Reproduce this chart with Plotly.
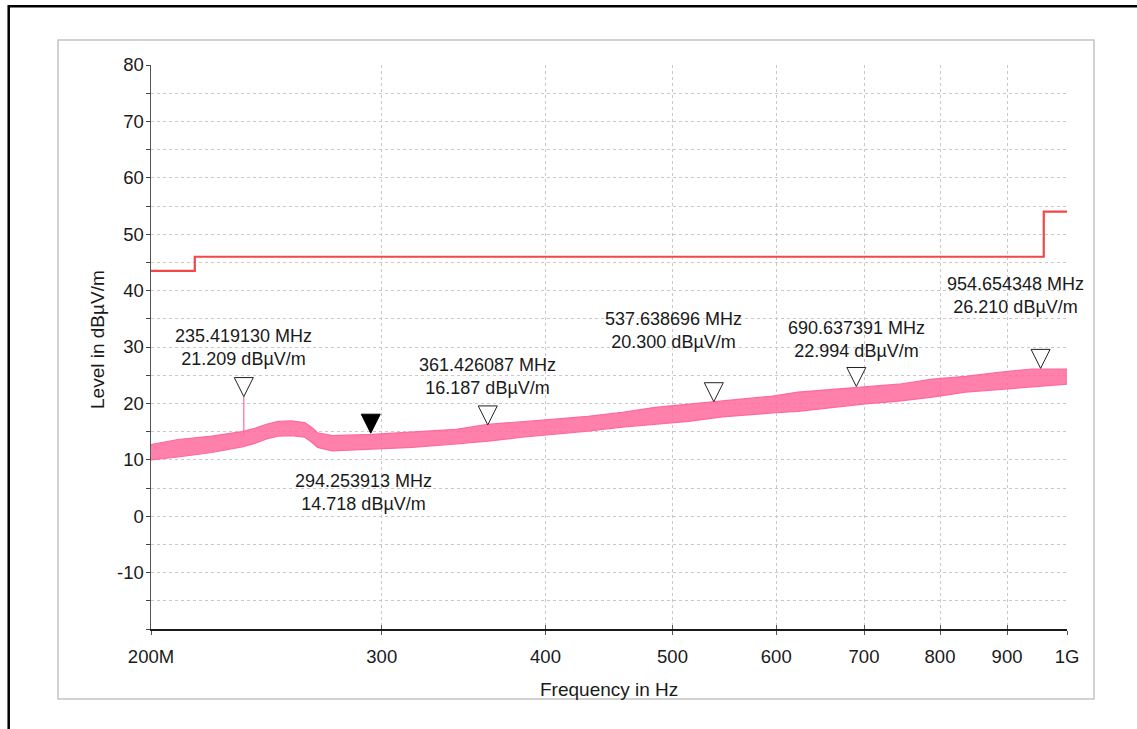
import math
import plotly.graph_objects as go

# ---------------- data ----------------
trace_freq_mhz = [200.0, 209.7, 222.6, 234.7, 240.0, 245.0, 250.0, 256.0, 262.0, 265.0,
                  268.0, 275.0, 295.0, 316.3, 342.0, 361.5, 383.8, 406.7, 431.0, 457.7,
                  485.1, 514.2, 545.7, 578.5, 596.0, 623.5, 662.1, 701.7, 743.8, 789.3,
                  836.6, 886.7, 939.8, 1000.0]
trace_low = [10.0, 10.5, 11.3, 12.3, 12.9, 13.7, 14.2, 14.3, 14.0, 13.2,
             12.2, 11.6, 11.9, 12.2, 12.8, 13.3, 14.0, 14.5, 15.1, 15.8,
             16.3, 16.8, 17.6, 18.1, 18.3, 18.6, 19.3, 19.9, 20.4, 21.1,
             22.0, 22.5, 23.0, 23.4]
trace_high = [12.7, 13.6, 14.2, 15.0, 15.6, 16.3, 16.8, 16.9, 16.6, 15.8,
              14.8, 14.3, 14.5, 14.9, 15.4, 16.3, 16.7, 17.2, 17.7, 18.4,
              19.3, 19.9, 20.4, 21.1, 21.3, 22.0, 22.5, 23.0, 23.4, 24.3,
              24.8, 25.5, 26.1, 26.1]

spike_freq_mhz = [235.419130, 235.419130]
spike_level = [14.5, 21.209]

limit_freq_mhz = [200.0, 216.0, 216.0, 960.0, 960.0, 1000.0]
limit_level = [43.5, 43.5, 46.0, 46.0, 54.0, 54.0]

marker_freq_mhz = [235.419130, 294.253913, 361.426087, 537.638696, 690.637391, 954.654348]
marker_level = [21.209, 14.718, 16.187, 20.300, 22.994, 26.210]
marker_active = [False, True, False, False, False, False]

x_tick_mhz = [200, 300, 400, 500, 600, 700, 800, 900, 1000]
x_tick_text = ["200M", "300", "400", "500", "600", "700", "800", "900", "1G"]
y_tick_vals = [-10, 0, 10, 20, 30, 40, 50, 60, 70, 80]
y_tick_text = ["-10", "0", "10", "20", "30", "40", "50", "60", "70", "80"]

# ---------------- layout constants ----------------
W, H = 1137, 729
ML, MR, MT, MB = 151, 70, 65, 100
PW, PH = W - ML - MR, H - MT - MB
X_RANGE = [math.log10(200e6), math.log10(1e9)]
Y_RANGE = [-20, 80]

# label offsets in pixels (layout only)
label_xshift = [0, -7, 0, -40, 0, -25]
label_yshift = [49, -59, 48, 71, 47, 73]

PINK = "#FF6A9B"
RED = "#F24848"
FONT = "Liberation Sans, Arial, sans-serif"
TXT = "#1a1a1a"


def hz(v):
    return v * 1e6


def px(xp):
    return (xp - ML) / PW


def py(yp):
    return (H - MB - yp) / PH


fig = go.Figure()

# measured trace (noise band between envelopes)
fig.add_trace(go.Scatter(x=[hz(f) for f in trace_freq_mhz], y=trace_low, mode="lines",
                         line=dict(color=PINK, width=1.2), hoverinfo="skip", showlegend=False))
fig.add_trace(go.Scatter(x=[hz(f) for f in trace_freq_mhz], y=trace_high, mode="lines",
                         line=dict(color=PINK, width=1.2), fill="tonexty",
                         fillcolor="rgba(255,106,155,0.85)", hoverinfo="skip", showlegend=False))
fig.add_trace(go.Scatter(x=[hz(f) for f in spike_freq_mhz], y=spike_level, mode="lines",
                         line=dict(color=PINK, width=1.2), hoverinfo="skip", showlegend=False))

# limit line
fig.add_trace(go.Scatter(x=[hz(f) for f in limit_freq_mhz], y=limit_level, mode="lines",
                         line=dict(color=RED, width=2.2), hoverinfo="skip", showlegend=False))

# marker triangles (apex at marker level)
dec_per_px = (X_RANGE[1] - X_RANGE[0]) / PW
db_per_px = (Y_RANGE[1] - Y_RANGE[0]) / PH
half_w = 9.5 * dec_per_px
tri_h = 19 * db_per_px


def tri_paths(active_flag):
    xs, ys = [], []
    for f, lv, a in zip(marker_freq_mhz, marker_level, marker_active):
        if a != active_flag:
            continue
        fx = hz(f)
        xl, xr = fx * 10 ** (-half_w), fx * 10 ** half_w
        xs += [xl, xr, fx, xl, None]
        ys += [lv + tri_h, lv + tri_h, lv, lv + tri_h, None]
    return xs, ys


xo, yo = tri_paths(False)
fig.add_trace(go.Scatter(x=xo, y=yo, mode="lines", fill="toself", fillcolor="white",
                         line=dict(color="#222222", width=1), hoverinfo="skip", showlegend=False))
xa, ya = tri_paths(True)
fig.add_trace(go.Scatter(x=xa, y=ya, mode="lines", fill="toself", fillcolor="black",
                         line=dict(color="black", width=1), hoverinfo="skip", showlegend=False))

# dummy trace for the secondary x axis (inner tick marks)
fig.add_trace(go.Scatter(x=[hz(x_tick_mhz[0])], y=[Y_RANGE[0]], xaxis="x2", mode="markers",
                         marker=dict(opacity=0), hoverinfo="skip", showlegend=False))

# marker labels
for f, lv, dx, dy in zip(marker_freq_mhz, marker_level, label_xshift, label_yshift):
    fig.add_annotation(x=math.log10(hz(f)), y=lv, xref="x", yref="y",
                       text=f"{f:.6f} MHz<br>{lv:.3f} dBµV/m", showarrow=False,
                       xanchor="center", yanchor="middle", xshift=dx, yshift=dy,
                       font=dict(family=FONT, size=18, color=TXT), align="center")

# axis titles
fig.add_annotation(x=px(97), y=py(340), xref="paper", yref="paper",
                   text="Level in dBµV/m", textangle=-90, showarrow=False,
                   xanchor="center", yanchor="middle",
                   font=dict(family=FONT, size=19, color=TXT))
fig.add_annotation(x=px(609), y=py(689), xref="paper", yref="paper",
                   text="Frequency in Hz", showarrow=False, xanchor="center", yanchor="middle",
                   font=dict(family=FONT, size=19, color=TXT))

# frames
fig.add_shape(type="rect", xref="paper", yref="paper",
              x0=px(58), x1=px(1094), y0=py(699), y1=py(40),
              line=dict(color="#c4c4c4", width=1.5), layer="below")
fig.add_shape(type="rect", xref="paper", yref="paper",
              x0=px(8.7), x1=px(1160), y0=py(760), y1=py(6.3),
              line=dict(color="black", width=2.5), layer="below")

common_x = dict(type="log", range=X_RANGE, tickvals=[hz(v) for v in x_tick_mhz],
                zeroline=False, fixedrange=True)

fig.update_layout(
    width=W, height=H,
    margin=dict(l=ML, r=MR, t=MT, b=MB),
    paper_bgcolor="white", plot_bgcolor="white",
    font=dict(family=FONT, color=TXT),
    showlegend=False,
    xaxis=dict(**common_x, ticktext=x_tick_text,
               showgrid=True, gridcolor="#c8c8c8", griddash="dot", gridwidth=1,
               showline=True, linecolor="#1a1a1a", linewidth=1.5,
               ticks="outside", ticklen=4, tickcolor="#555555", tickwidth=1,
               ticklabelstandoff=6,
               tickfont=dict(family=FONT, size=18.5, color=TXT)),
    xaxis2=dict(**common_x, overlaying="x", anchor="y", side="bottom",
                showgrid=False, showline=False, showticklabels=False,
                ticks="inside", ticklen=4, tickcolor="#555555", tickwidth=1),
    yaxis=dict(range=Y_RANGE, tickvals=y_tick_vals, ticktext=y_tick_text,
               showgrid=True, gridcolor="#c8c8c8", griddash="dot", gridwidth=1,
               minor=dict(dtick=5, showgrid=True, gridcolor="#c8c8c8", griddash="dot",
                          ticks="outside", ticklen=4, tickcolor="#444444"),
               showline=True, linecolor="#555555", linewidth=1.5,
               ticks="outside", ticklen=4, tickcolor="#444444", tickwidth=1,
               ticklabelstandoff=-2,
               tickfont=dict(family=FONT, size=18.5, color=TXT),
               zeroline=False, fixedrange=True),
)

fig.write_html("out.html",
               config={"displayModeBar": False, "staticPlot": True},
               post_script="document.body.style.margin='0';document.body.style.overflow='hidden';")
